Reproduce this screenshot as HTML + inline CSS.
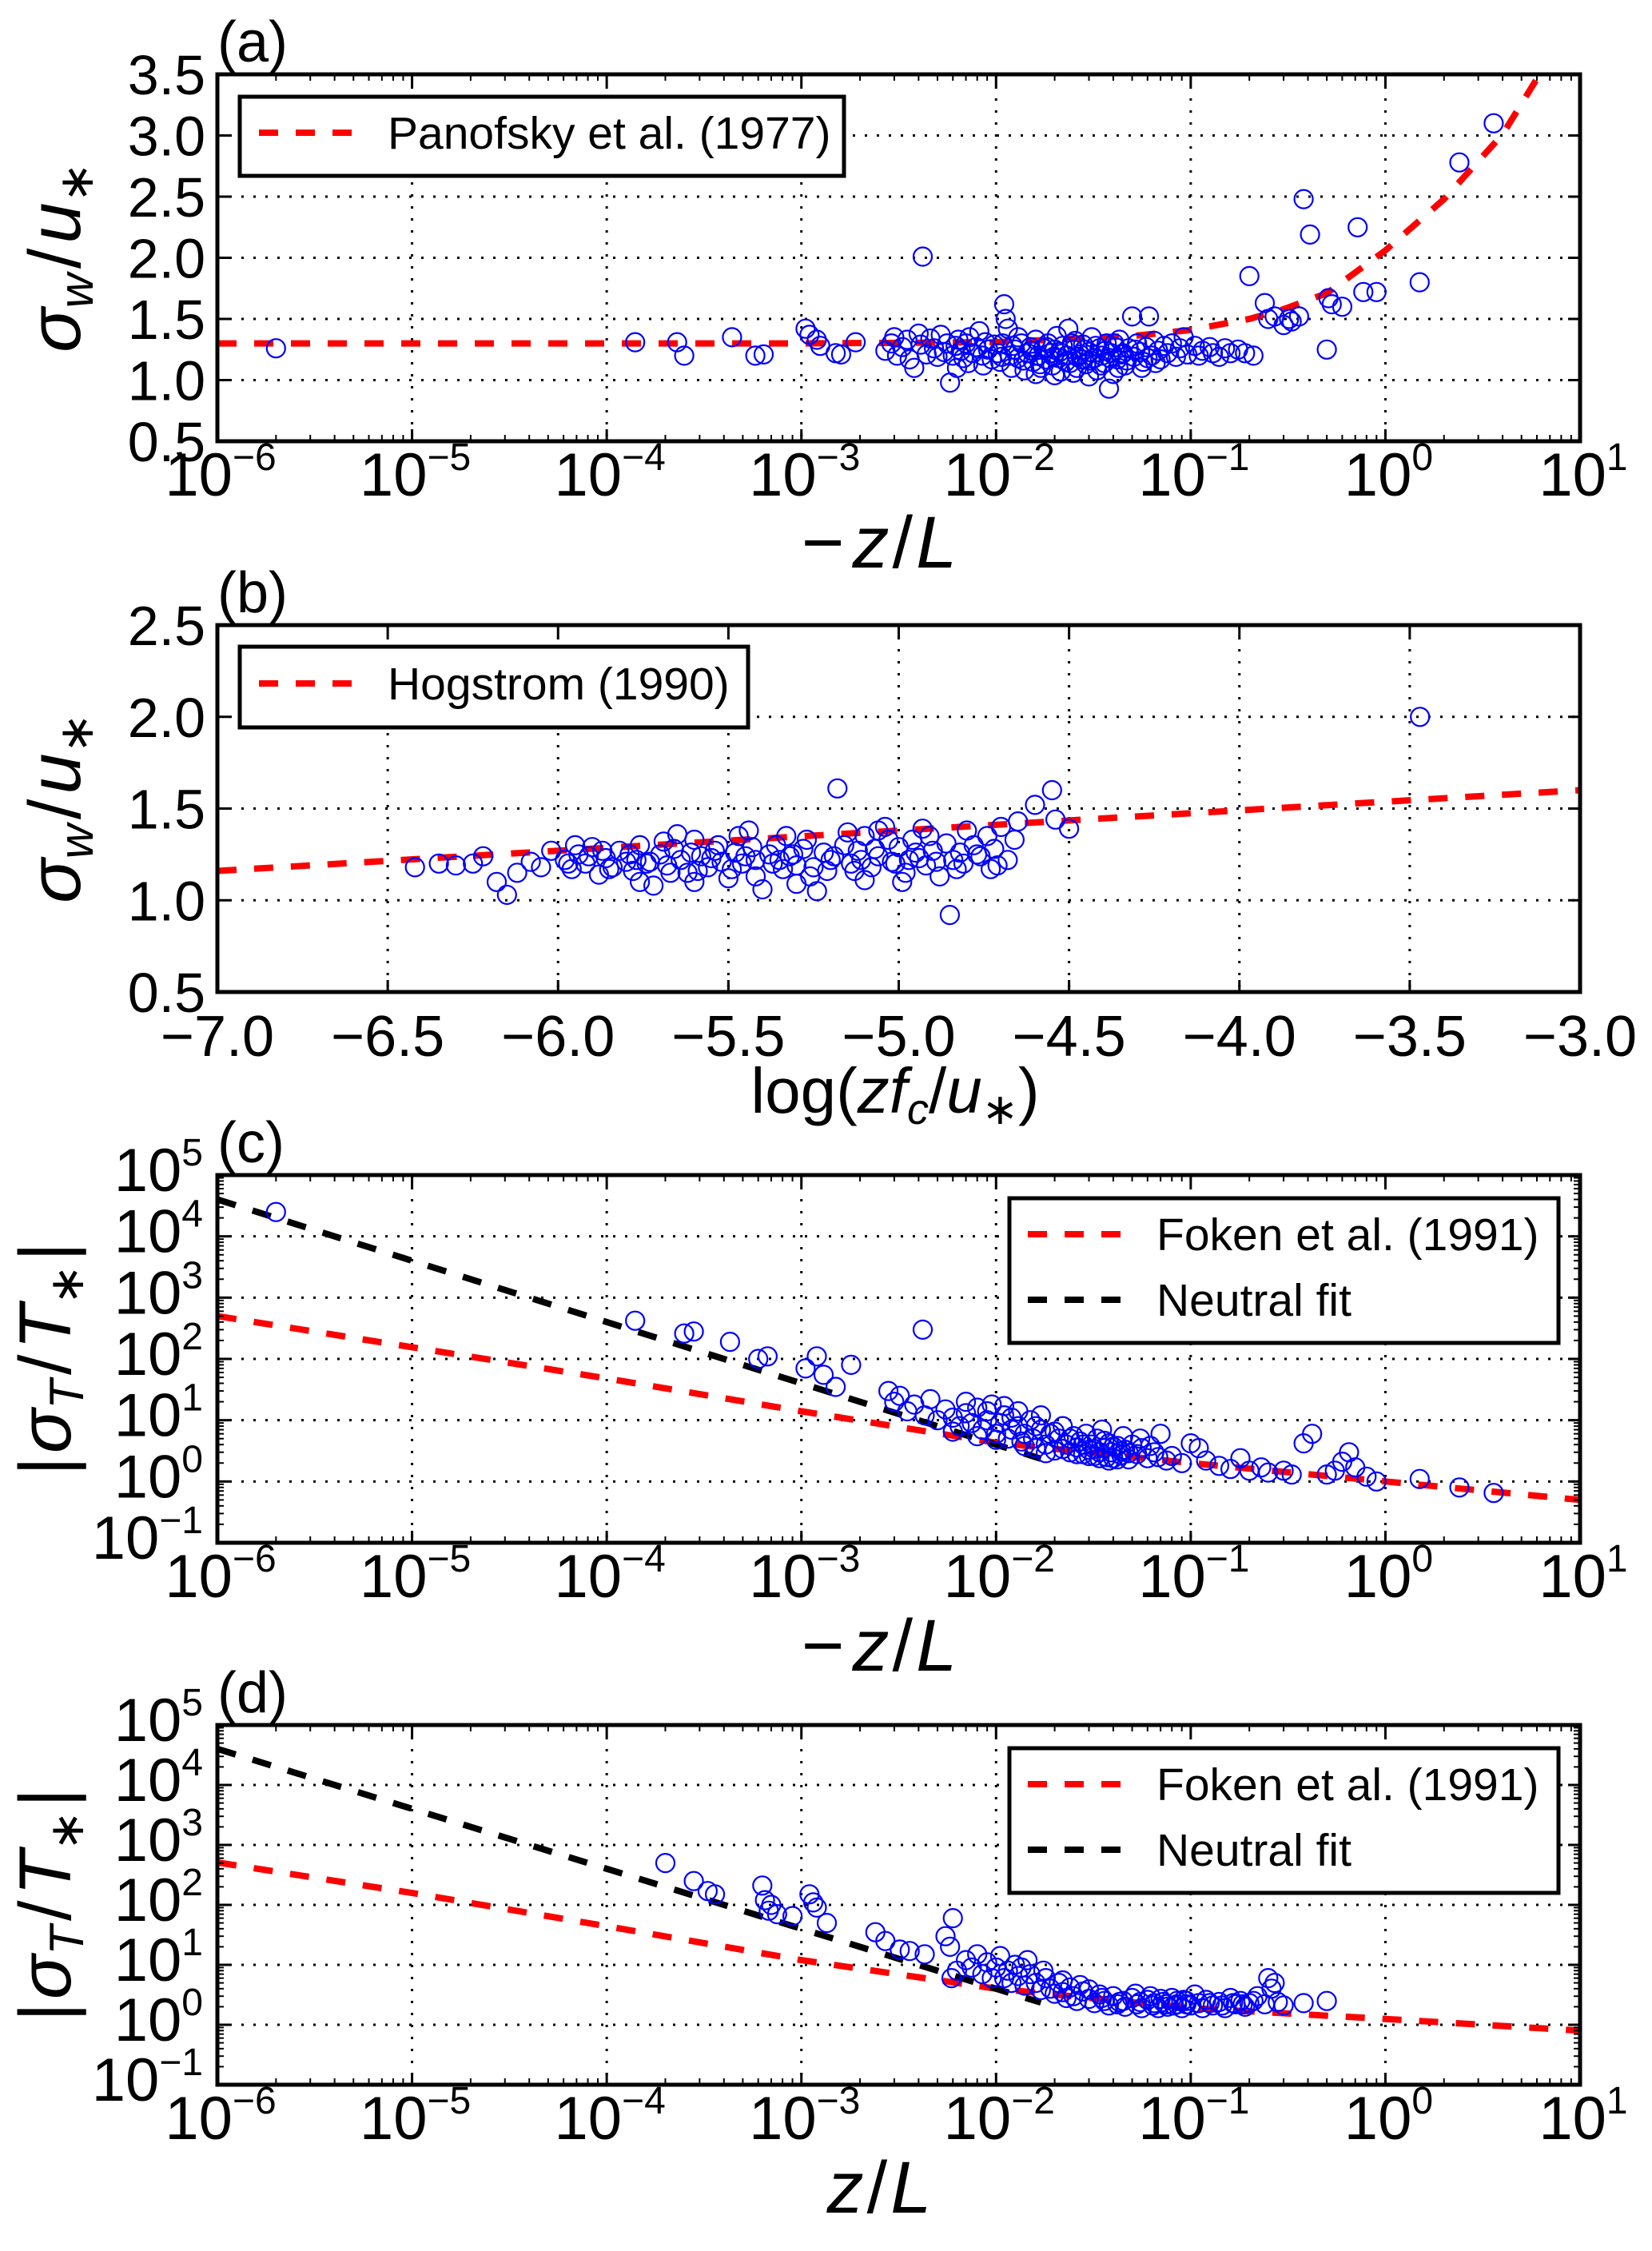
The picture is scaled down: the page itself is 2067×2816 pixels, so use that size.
<!DOCTYPE html>
<html><head><meta charset="utf-8"><style>
html,body{margin:0;padding:0;background:#fff;}
svg{display:block;}
text{font-family:"Liberation Sans",sans-serif;fill:#000;}
</style></head><body>
<svg id="fig" width="2067" height="2816" viewBox="0 0 2067 2816" xmlns="http://www.w3.org/2000/svg"></svg>
<script>
// ---------- DATA ----------
const panofskyX = [1e-6, 1e-3, 1e-2, 0.05, 0.1, 0.2, 0.3, 0.5, 1, 2, 4, 6.2];
const panofskyY = [1.30, 1.30, 1.31, 1.36, 1.41, 1.50, 1.58, 1.71, 2.06, 2.48, 3.01, 3.50];
const hogX = [-7, -3];
const hogY = [1.16, 1.60];
const fokenCX = [1e-6, 1e-5, 1e-4, 1e-3, 1e-2, 0.1, 1, 10];
const fokenCY = [500, 155, 48, 14, 4.3, 2.0, 1.0, 0.5];
const neutralCX = [1e-6, 0.017];
const neutralCY = [40000, 2.35];
const fokenDX = [1e-6, 1e-5, 1e-4, 1e-3, 1e-2, 0.1, 1, 10];
const fokenDY = [510, 158, 44, 12, 4.0, 1.9, 1.25, 0.8];
const neutralDX = [1e-6, 0.017];
const neutralDY = [40000, 2.35];

const aPoints = [[2e-6,1.26],[1.4e-4,1.31],[2.3e-4,1.31],[2.5e-4,1.2],[4.4e-4,1.35],[5.8e-4,1.2],[6.4e-4,1.21],[1.05e-3,1.42],[1.1e-3,1.37],[1.2e-3,1.33],[1.25e-3,1.28],[1.5e-3,1.22],[1.6e-3,1.21],[1.9e-3,1.31],
[2.7e-3,1.24],[2.9e-3,1.3],[3.0e-3,1.35],[3.1e-3,1.2],[3.3e-3,1.27],[3.5e-3,1.33],[3.6e-3,1.17],[3.8e-3,1.1],[4.0e-3,1.38],[4.1e-3,1.29],[4.2e-3,2.01],[4.4e-3,1.21],[4.6e-3,1.34],[4.8e-3,1.26],[5.0e-3,1.19],[5.2e-3,1.37],[5.4e-3,1.23],[5.6e-3,1.3],[5.8e-3,0.98],[6.0e-3,1.2],[6.2e-3,1.28],[6.4e-3,1.33],[6.6e-3,1.24],[6.8e-3,1.18],[7.0e-3,1.3],[7.3e-3,1.35],[7.6e-3,1.22],[7.9e-3,1.27],[8.2e-3,1.4],[8.5e-3,1.2],[8.8e-3,1.31],[9.1e-3,1.25],[9.5e-3,1.17],[9.8e-3,1.29],
[1.02e-2,1.22],[1.05e-2,1.15],[1.08e-2,1.3],[1.1e-2,1.62],[1.12e-2,1.5],[1.15e-2,1.42],[1.18e-2,1.2],[1.2e-2,1.1],[1.25e-2,1.25],[1.3e-2,1.18],[1.35e-2,1.3],[1.4e-2,1.08],[1.45e-2,1.22],[1.5e-2,1.27],[1.55e-2,1.15],[1.6e-2,1.33],[1.65e-2,1.2],[1.7e-2,1.1],[1.75e-2,1.26],[1.8e-2,1.17],[1.85e-2,1.3],[1.9e-2,1.22],[1.95e-2,1.12],[2.0e-2,1.25],[2.05e-2,1.36],[2.1e-2,1.18],[2.15e-2,1.07],[2.2e-2,1.28],[2.3e-2,1.2],[2.35e-2,1.42],[2.4e-2,1.14],[2.5e-2,1.25],[2.55e-2,1.32],[2.6e-2,1.1],[2.7e-2,1.21],[2.75e-2,1.17],[2.8e-2,1.29],[2.9e-2,1.13],[3.0e-2,1.23],[3.1e-2,1.35],[3.2e-2,1.18],[3.3e-2,1.08],[3.4e-2,1.26],[3.5e-2,1.2],[3.6e-2,1.14],[3.7e-2,1.3],[3.8e-2,0.93],[3.9e-2,1.22],[4.0e-2,1.05],[4.1e-2,1.27],[4.2e-2,1.17],[4.3e-2,1.33],[4.4e-2,1.21],[4.6e-2,1.12],[4.8e-2,1.26],[5.0e-2,1.52],[5.1e-2,1.19],[5.3e-2,1.3],[5.5e-2,1.23],[5.7e-2,1.15],[5.9e-2,1.27],[6.1e-2,1.52],[6.3e-2,1.2],[6.5e-2,1.32],[6.8e-2,1.24],[7.0e-2,1.17],[7.3e-2,1.28],[7.6e-2,1.22],[8.0e-2,1.3],[8.4e-2,1.19],[8.8e-2,1.26],[9.2e-2,1.35],[9.6e-2,1.21],
[1.07e-2,1.19],[1.22e-2,1.28],[1.38e-2,1.16],[1.52e-2,1.24],[1.68e-2,1.13],[1.82e-2,1.27],[1.98e-2,1.19],[2.12e-2,1.23],[2.28e-2,1.15],[2.45e-2,1.3],[2.62e-2,1.19],[2.85e-2,1.25],[3.05e-2,1.16],[3.25e-2,1.28],[3.45e-2,1.12],[3.65e-2,1.24],[3.85e-2,1.18],[4.05e-2,1.3],[4.25e-2,1.1],[4.5e-2,1.22],[4.7e-2,1.16],[5.2e-2,1.25],[5.6e-2,1.1],[6.0e-2,1.18],[6.6e-2,1.14],[1.3e-2,1.35],[1.6e-2,1.05],[2.0e-2,1.04],[2.5e-2,1.06],[3.0e-2,1.03],[8.6e-3,1.12],[7.2e-3,1.14],[6.3e-3,1.1],
[0.105,1.28],[0.11,1.2],[0.115,1.24],[0.125,1.27],[0.13,1.22],[0.14,1.19],[0.15,1.26],[0.16,1.22],[0.175,1.25],[0.19,1.22],[0.2,1.85],[0.21,1.2],[0.24,1.63],[0.25,1.5],[0.27,1.52],[0.3,1.45],[0.32,1.5],[0.33,1.48],[0.36,1.52],[0.38,2.48],[0.41,2.19],[0.5,1.25],[0.51,1.67],[0.53,1.62],[0.6,1.6],[0.72,2.25],[0.77,1.72],[0.9,1.72],[1.5,1.8],[2.4,2.78],[3.6,3.1]];

const bPoints = [[-6.42,1.18],[-6.35,1.2],[-6.3,1.19],[-6.25,1.2],[-6.22,1.24],[-6.18,1.1],[-6.15,1.03],[-6.12,1.15],[-6.08,1.21],[-6.05,1.18],[-6.02,1.27],[-5.98,1.22],[-5.96,1.17],[-5.94,1.25],[-5.92,1.2],[-5.9,1.29],[-5.88,1.14],[-5.86,1.23],[-5.84,1.18],[-5.82,1.27],[-5.8,1.21],[-5.78,1.16],[-5.76,1.3],[-5.74,1.2],[-5.72,1.08],[-5.7,1.25],[-5.68,1.19],[-5.66,1.28],[-5.64,1.22],[-5.62,1.15],[-5.6,1.33],[-5.58,1.24],[-5.56,1.18],[-5.54,1.27],[-5.52,1.21],[-5.5,1.12],[-5.48,1.26],[-5.46,1.2],[-5.44,1.38],[-5.42,1.22],[-5.4,1.06],[-5.38,1.25],[-5.36,1.3],[-5.34,1.17],[-5.32,1.24],[-5.3,1.19],[-5.28,1.28],[-5.26,1.13],[-5.24,1.05],[-5.22,1.26],[-5.2,1.22],[-5.18,1.61],[-5.16,1.3],[-5.14,1.2],[-5.12,1.27],[-5.1,1.35],[-5.08,1.18],[-5.06,1.24],[-5.04,1.4],[-5.02,1.21],[-5.0,1.29],[-4.98,1.15],[-4.96,1.33],[-4.94,1.23],[-4.92,1.19],[-4.9,1.27],[-4.88,1.13],[-4.86,1.31],[-4.85,0.92],[-4.84,1.22],[-4.82,1.26],[-4.8,1.38],[-4.78,1.3],[-4.76,1.24],[-4.74,1.35],[-4.72,1.28],[-4.7,1.4],[-4.68,1.22],[-4.66,1.33],[-4.65,1.43],[-4.6,1.52],[-4.55,1.6],[-4.54,1.44],[-4.5,1.39],[-3.47,2.0],
[-5.97,1.2],[-5.91,1.24],[-5.85,1.17],[-5.79,1.25],[-5.73,1.21],[-5.67,1.15],[-5.61,1.26],[-5.55,1.23],[-5.49,1.17],[-5.43,1.29],[-5.37,1.2],[-5.31,1.25],[-5.25,1.18],[-5.19,1.24],[-5.13,1.16],[-5.07,1.28],[-5.01,1.2],[-4.95,1.26],[-4.89,1.21],[-4.83,1.17],[-4.77,1.25],[-4.71,1.19],[-5.95,1.3],[-5.87,1.27],[-5.77,1.22],[-5.69,1.32],[-5.59,1.16],[-5.53,1.3],[-5.45,1.24],[-5.35,1.22],[-5.27,1.33],[-5.21,1.16],[-5.11,1.22],[-5.03,1.33],[-4.97,1.22],[-4.91,1.35],[-4.81,1.2],[-4.73,1.17],[-5.6,1.1],[-5.42,1.13],[-5.3,1.09],[-5.1,1.11],[-4.99,1.1],[-5.76,1.1],[-5.65,1.36],[-5.47,1.35],[-5.33,1.35],[-5.15,1.37],[-5.06,1.38],[-4.93,1.39]];

const cPoints = [[2e-6,25000],[1.4e-4,420],[2.5e-4,260],[2.8e-4,280],[4.3e-4,190],[6e-4,100],[6.7e-4,110],[1.05e-3,70],[1.2e-3,110],[1.3e-3,55],[1.5e-3,35],[1.8e-3,80],[4.2e-3,300],
[2.8e-3,30],[3.0e-3,20],[3.2e-3,25],[3.5e-3,14],[3.8e-3,18],[4.3e-3,12],[4.6e-3,22],[5e-3,10],[5.5e-3,15],[6e-3,11],[6.5e-3,8],[7e-3,13],[7.5e-3,9],[8e-3,16],[8.5e-3,7],[9e-3,10],[9.5e-3,18],[1.0e-2,6],[1.05e-2,9],[1.1e-2,12],[1.15e-2,5],[1.2e-2,7],[1.3e-2,8],[1.35e-2,4.5],[1.4e-2,6],[1.5e-2,10],[1.55e-2,5],[1.6e-2,3.5],[1.7e-2,7],[1.8e-2,4],[1.9e-2,6],[2.0e-2,3.2],[2.1e-2,5],[2.2e-2,8],[2.3e-2,4],[2.4e-2,3],[2.5e-2,5.5],[2.6e-2,3.6],[2.7e-2,4.5],[2.8e-2,2.8],[2.9e-2,6],[3.0e-2,3.3],[3.1e-2,4],[3.2e-2,2.6],[3.3e-2,5],[3.4e-2,3],[3.5e-2,7],[3.6e-2,3.5],[3.7e-2,2.5],[3.8e-2,4.2],[3.9e-2,3],[4.0e-2,2.4],[4.2e-2,3.8],[4.4e-2,2.7],[4.6e-2,3.3],[4.8e-2,2.3],[5.0e-2,4],[5.3e-2,2.8],[5.6e-2,3.5],[6.0e-2,2.4],[6.5e-2,3],[7.0e-2,6],[7.5e-2,2.2],[8.0e-2,2.6],[9.0e-2,2],[0.1,4.2],[0.11,3.5],[0.12,2.2],[0.14,1.8],[0.16,1.6],[0.18,2.4],[0.2,1.5],[0.23,1.7],[0.25,1.4],[0.3,1.5],[0.33,1.3],[0.38,4.2],[0.42,6],[0.5,1.3],[0.55,1.5],[0.6,2.1],[0.65,3],[0.7,1.7],[0.8,1.2],[0.9,1.0],[1.5,1.1],[2.4,0.8],[3.6,0.65],
[1.2e-2,11],[1.6e-2,8],[2.0e-2,6.5],[2.4e-2,5],[2.8e-2,4],[3.2e-2,3.4],[3.6e-2,4.6],[4.0e-2,3.7],[4.4e-2,3.1],[4.8e-2,2.9],[2.2e-2,3.4],[2.6e-2,2.8],[3.0e-2,2.6],[3.4e-2,2.4],[3.8e-2,2.2],[4.2e-2,2.3],[1.8e-2,2.9],[1.4e-2,3.8],[1.0e-2,4.8],[8e-3,5.5],[6e-3,6.5],[7e-3,20],[9e-3,14],[1.1e-2,17],[1.3e-2,14],[1.7e-2,12],[5.5e-2,5],[6.2e-2,3.8],[6.8e-2,2.5],[4.5e-2,5.5]];

const dPoints = [[2e-4,500],[2.8e-4,250],[3.3e-4,170],[3.6e-4,150],[6.3e-4,210],[6.5e-4,120],[7e-4,100],[6.8e-4,80],[7.5e-4,70],[9e-4,65],[1.1e-3,150],[1.15e-3,110],[1.2e-3,90],[1.35e-3,50],[2.4e-3,35],[2.7e-3,25],[3.2e-3,18],[3.6e-3,17],[4.3e-3,15],[5.5e-3,30],[6e-3,60],[5.8e-3,20],[6.3e-3,8],[5.9e-3,6],
[7e-3,12],[7.5e-3,9],[8e-3,15],[8.5e-3,7],[9e-3,11],[9.5e-3,6],[1.0e-2,9],[1.05e-2,14],[1.1e-2,6],[1.15e-2,8],[1.2e-2,5],[1.25e-2,10],[1.3e-2,6.5],[1.4e-2,4.5],[1.5e-2,7],[1.6e-2,5],[1.7e-2,3.8],[1.8e-2,6],[1.9e-2,4],[2.0e-2,3.3],[2.1e-2,5],[2.2e-2,3.5],[2.3e-2,2.8],[2.4e-2,4.2],[2.5e-2,3],[2.6e-2,2.5],[2.8e-2,3.6],[3.0e-2,2.7],[3.2e-2,2.3],[3.4e-2,3.2],[3.6e-2,2.5],[3.8e-2,2.1],[4.0e-2,3],[4.3e-2,2.4],[4.6e-2,2],[5.0e-2,2.8],[5.3e-2,2.2],[5.6e-2,1.9],[6.0e-2,2.6],[6.4e-2,2.1],[6.8e-2,1.9],[7.2e-2,2.4],[7.6e-2,2],[8.0e-2,2.8],[8.5e-2,2.2],[9.0e-2,1.9],[9.5e-2,2.5],[0.1,2.1],[0.105,3.2],[0.11,2.3],[0.115,1.9],[0.12,2.6],[0.13,2.1],[0.14,2.4],[0.15,1.9],[0.16,2.8],[0.17,2.2],[0.18,2.5],[0.19,2],[0.2,2.3],[0.22,3],[0.24,2.2],[0.25,6],[0.26,4],[0.27,5],[0.28,2.4],[0.3,2.1],[0.38,2.3],[0.5,2.5],
[3e-2,3.9],[3.5e-2,2.8],[4.5e-2,2.5],[5.5e-2,2.4],[6.5e-2,2.3],[7.5e-2,2.2],[8.5e-2,2.5],[9.5e-2,2.2],[4.2e-2,2.2],[5.2e-2,3.3],[6.2e-2,3],[7e-2,2.7],[8.2e-2,2.1],[9.2e-2,2.6],[0.125,2.3],[0.145,2.1],[0.165,2.3],[0.185,2.2],[0.21,2.5],[2.7e-2,4.6],[2.2e-2,5.5],[1.75e-2,8],[1.35e-2,9],[1.45e-2,12]];

// ---------- GEOMETRY ----------
const NS = "http://www.w3.org/2000/svg";
const svg = document.getElementById('fig');
const L = 272, R = 1977, W = R - L;
const panels = {
  a: {top: 93, bot: 552},
  b: {top: 782, bot: 1241},
  c: {top: 1470, bot: 1930},
  d: {top: 2158, bot: 2608}
};
function mk(tag, attrs, parent) {
  const e = document.createElementNS(NS, tag);
  for (const k in attrs) e.setAttribute(k, attrs[k]);
  (parent || svg).appendChild(e);
  return e;
}
function xLog(v) { return L + (Math.log10(v) + 6) / 7 * W; }
function xLinB(v) { return L + (v + 7) / 4 * W; }
function yLinA(v) { return panels.a.bot - (v - 0.5) / 3 * (panels.a.bot - panels.a.top); }
function yLinB(v) { return panels.b.bot - (v - 0.5) / 2 * (panels.b.bot - panels.b.top); }
function yLogC(v) { return panels.c.bot - (Math.log10(v) + 1) / 6 * (panels.c.bot - panels.c.top); }
function yLogD(v) { return panels.d.bot - (Math.log10(v) + 1) / 6 * (panels.d.bot - panels.d.top); }

function line(g, x1, y1, x2, y2, st) {
  return mk('line', {x1, y1, x2, y2, stroke: '#000', 'stroke-width': st.w || 2, 'stroke-dasharray': st.dash || 'none'}, g);
}
function grid(g, p, xs, ys) {
  xs.forEach(x => { const l = line(g, x, p.top, x, p.bot, {w: 3, dash: '3 12'});
    
     });
  ys.forEach(y => { const l = line(g, L, y, R, y, {w: 3, dash: '3 12'});
    
     });
}
function ticksX(g, p, majors, minors) {
  majors.forEach(x => { line(g, x, p.bot, x, p.bot - 15, {w: 3}); line(g, x, p.top, x, p.top + 15, {w: 3}); });
  minors.forEach(x => { line(g, x, p.bot, x, p.bot - 8, {w: 2}); line(g, x, p.top, x, p.top + 8, {w: 2}); });
}
function ticksY(g, p, majors, minors) {
  majors.forEach(y => { line(g, L, y, L + 15, y, {w: 3}); line(g, R, y, R - 15, y, {w: 3}); });
  minors.forEach(y => { line(g, L, y, L + 8, y, {w: 2}); line(g, R, y, R - 8, y, {w: 2}); });
}
function frame(g, p) {
  const r = mk('rect', {x: L, y: p.top, width: W, height: p.bot - p.top, fill: 'none', stroke: '#000', 'stroke-width': 5}, g);
  
  
}
function pow10Label(g, x, y, exp, anchor) {
  const t = mk('text', {x, y, 'font-size': 76, 'text-anchor': anchor}, g);
  
  
  t.appendChild(document.createTextNode('10'));
  const s = mk('tspan', {'font-size': 48, dy: -32}, t);
  s.textContent = exp < 0 ? '\u2212' + (-exp) : String(exp);
  return t;
}
function plainLabel(g, x, y, txt, anchor, size) {
  const t = mk('text', {x, y, 'font-size': size || 70, 'text-anchor': anchor}, g);
  
  
  t.textContent = txt;
  return t;
}
function curve(g, xs, ys, fx, fy, color, name) {
  const pts = xs.map((v, i) => fx(v).toFixed(1) + ',' + fy(ys[i]).toFixed(1)).join(' ');
  const pl = mk('polyline', {points: pts, fill: 'none', stroke: color, 'stroke-width': 8, 'stroke-dasharray': '24 22'}, g);
  
  
}
function scatter(g, pts, fx, fy, p, name) {
  const sg = mk('g', {}, g);
  
  
  pts.forEach(([x, y]) => {
    const cx = fx(x), cy = fy(y);
    if (cy < p.top - 12 || cy > p.bot + 12) return;
    const c = mk('circle', {cx: cx.toFixed(1), cy: cy.toFixed(1), r: 11.5, fill: 'none', stroke: '#0000ff', 'stroke-width': 2.2}, sg);
    
    
  });
}
function legend(g, x, y, w, h, entries) {
  const lg = mk('g', {}, g);
  
  
  const r = mk('rect', {x, y, width: w, height: h, fill: '#fff', stroke: '#000', 'stroke-width': 5}, lg);
  
  
  entries.forEach(en => {
    const ln = mk('line', {x1: en.lx1, y1: en.ly, x2: en.lx2, y2: en.ly, stroke: en.color, 'stroke-width': 8, 'stroke-dasharray': '24 22'}, lg);
    
    
    const t = mk('text', {x: en.tx, y: en.ty, 'font-size': 57}, lg);
    
    
    t.textContent = en.text;
  });
}
function panelLabel(g, p, txt) {
  const t = mk('text', {x: 272, y: p.top - 16, 'font-size': 72}, g);
  
  
  t.textContent = txt;
}
function yTitle(g, cx, cy, html, name, size) {
  const t = mk('text', {x: 0, y: 0, 'font-size': size || 92, 'text-anchor': 'middle', transform: `translate(${cx},${cy}) rotate(-90)`}, g);
  
  
  t.innerHTML = html;
}
function xTitle(g, cx, y, html, name, size) {
  const t = mk('text', {x: cx, y, 'font-size': size || 92, 'text-anchor': 'middle'}, g);
  
  
  t.innerHTML = html;
}

const decades = [-6, -5, -4, -3, -2, -1, 0, 1];
const logMinorX = [];
for (let d = -6; d < 1; d++) for (let k = 2; k <= 9; k++) logMinorX.push(k * Math.pow(10, d));
const logMinorY = [];
for (let d = -1; d < 5; d++) for (let k = 2; k <= 9; k++) logMinorY.push(k * Math.pow(10, d));

const sigmaW = '<tspan font-style="italic">σ</tspan><tspan font-style="italic" font-size="60" dy="16">w</tspan><tspan dy="-16" dx="6">/</tspan><tspan font-style="italic" dx="6">u</tspan><tspan font-size="60" dy="16">∗</tspan>';
const sigmaT = '|<tspan font-style="italic" dx="4">σ</tspan><tspan font-style="italic" font-size="60" dy="16">T</tspan><tspan dy="-16" dx="6">/</tspan><tspan font-style="italic" dx="6">T</tspan><tspan font-size="60" dy="16">∗</tspan><tspan dy="-16" dx="4">|</tspan>';
const negZL = '−<tspan font-style="italic" dx="10">z</tspan><tspan dx="4">/</tspan><tspan font-style="italic" dx="4">L</tspan>';

// ---------- PANEL A ----------
(function () {
  const p = panels.a;
  const g = mk('g', {});
  
  
  const yt = [0.5, 1.0, 1.5, 2.0, 2.5, 3.0, 3.5];
  grid(g, p, decades.slice(1, -1).map(d => xLog(Math.pow(10, d))), yt.slice(1, -1).map(yLinA));
  curve(g, panofskyX, panofskyY, xLog, yLinA, '#ff0000', 'panofsky-curve');
  scatter(g, aPoints, xLog, yLinA, p, 'scatter-a');
  ticksX(g, p, decades.map(d => xLog(Math.pow(10, d))), logMinorX.map(xLog));
  ticksY(g, p, yt.map(yLinA), []);
  frame(g, p);
  yt.forEach(v => plainLabel(g, 257, yLinA(v) + 25, v.toFixed(1), 'end'));
  decades.forEach(d => pow10Label(g, xLog(Math.pow(10, d)) + 4, p.bot + 68, d, 'middle'));
  legend(g, 300, 121, 756, 99, [{lx1: 324, lx2: 440, ly: 166, color: '#ff0000', tx: 485, ty: 186, text: 'Panofsky et al. (1977)'}]);
  panelLabel(g, p, '(a)');
  yTitle(g, 100, 322, sigmaW, 'y-axis-title-a');
  xTitle(g, 1100, 710, negZL, 'x-axis-title-a');
})();

// ---------- PANEL B ----------
(function () {
  const p = panels.b;
  const g = mk('g', {});
  
  
  const xt = [-7.0, -6.5, -6.0, -5.5, -5.0, -4.5, -4.0, -3.5, -3.0];
  const yt = [0.5, 1.0, 1.5, 2.0, 2.5];
  grid(g, p, xt.slice(1, -1).map(xLinB), yt.slice(1, -1).map(yLinB));
  curve(g, hogX, hogY, xLinB, yLinB, '#ff0000', 'hogstrom-curve');
  scatter(g, bPoints, xLinB, yLinB, p, 'scatter-b');
  ticksX(g, p, xt.map(xLinB), []);
  ticksY(g, p, yt.map(yLinB), []);
  frame(g, p);
  yt.forEach(v => plainLabel(g, 257, yLinB(v) + 25, v.toFixed(1), 'end'));
  xt.forEach(v => plainLabel(g, xLinB(v), p.bot + 80, '\u2212' + Math.abs(v).toFixed(1), 'middle', 72));
  legend(g, 300, 809, 636, 101, [{lx1: 324, lx2: 440, ly: 855, color: '#ff0000', tx: 485, ty: 875, text: 'Hogstrom (1990)'}]);
  panelLabel(g, p, '(b)');
  yTitle(g, 100, 1011, sigmaW, 'y-axis-title-b');
  xTitle(g, 1120, 1392, 'log(<tspan font-style="italic">zf</tspan><tspan font-style="italic" font-size="54" dy="14">c</tspan><tspan dy="-14">/</tspan><tspan font-style="italic">u</tspan><tspan font-size="54" dy="14">∗</tspan><tspan dy="-14">)</tspan>', 'x-axis-title-b', 80);
})();

// ---------- PANELS C & D ----------
function logPanel(key, fy, fokX, fokY, neuX, neuY, pts, legTop, xtitle, title) {
  const p = panels[key];
  const g = mk('g', {});
  
  
  const ydec = [-1, 0, 1, 2, 3, 4, 5];
  grid(g, p, decades.slice(1, -1).map(d => xLog(Math.pow(10, d))), ydec.slice(1, -1).map(d => fy(Math.pow(10, d))));
  curve(g, fokX, fokY, xLog, fy, '#ff0000', 'foken-curve-' + key);
  curve(g, neuX, neuY, xLog, fy, '#000000', 'neutral-fit-' + key);
  scatter(g, pts, xLog, fy, p, 'scatter-' + key);
  ticksX(g, p, decades.map(d => xLog(Math.pow(10, d))), logMinorX.map(xLog));
  ticksY(g, p, ydec.map(d => fy(Math.pow(10, d))), logMinorY.map(fy));
  frame(g, p);
  ydec.forEach(d => pow10Label(g, 254, fy(Math.pow(10, d)) + 20, d, 'end'));
  decades.forEach(d => pow10Label(g, xLog(Math.pow(10, d)) + 4, p.bot + 68, d, 'middle'));
  legend(g, 1263, legTop, 687, 181, [
    {lx1: 1286, lx2: 1402, ly: legTop + 45, color: '#ff0000', tx: 1447, ty: legTop + 65, text: 'Foken et al. (1991)'},
    {lx1: 1286, lx2: 1402, ly: legTop + 127, color: '#000000', tx: 1447, ty: legTop + 147, text: 'Neutral fit'}]);
  panelLabel(g, p, '(' + key + ')');
  yTitle(g, 88, (p.top + p.bot) / 2, sigmaT, 'y-axis-title-' + key);
  xTitle(g, 1100, p.bot + 160, xtitle, title);
}
logPanel('c', yLogC, fokenCX, fokenCY, neutralCX, neutralCY, cPoints, 1499, negZL, 'x-axis-title-c');
logPanel('d', yLogD, fokenDX, fokenDY, neutralDX, neutralDY, dPoints, 2187, '<tspan font-style="italic">z</tspan><tspan dx="4">/</tspan><tspan font-style="italic" dx="4">L</tspan>', 'x-axis-title-d');
</script>
</body></html>
